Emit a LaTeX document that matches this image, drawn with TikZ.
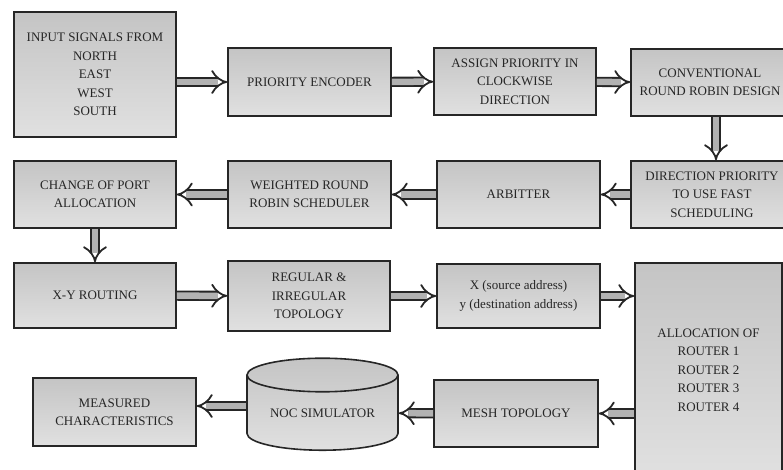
\documentclass[tikz,border=0pt]{standalone}
\usepackage{fontspec}
\setmainfont{Liberation Serif}
\usetikzlibrary{arrows.meta,shapes.geometric}

\begin{document}
\begin{tikzpicture}[x=1pt,y=-1pt,
        blk/.style={draw=black!85,line width=1.6pt,top color=black!23,bottom color=black!12,
            align=center,inner sep=0pt,text=black!85,font=\rmfamily\fontsize{13}{18.5}\selectfont},
        drum/.style={blk,cylinder,shape border rotate=90,aspect=0.32},
        flow/.style={draw=black!85,line width=1.8pt,double=black!30,double distance=6.5pt,-{Implies}}]
        \useasboundingbox(0,0)rectangle(783,469);
        \node[blk,minimum width=162pt,minimum height=125pt](inp)at(95,74.5){INPUT SIGNALS FROM\\NORTH\\EAST\\WEST\\SOUTH};
        \node[blk,minimum width=163pt,minimum height=68pt](enc)at(309.5,82){PRIORITY ENCODER};
        \node[blk,minimum width=162pt,minimum height=67pt](asg)at(515,81.5){ASSIGN PRIORITY IN\\CLOCKWISE\\DIRECTION};
        \node[blk,minimum width=158pt,minimum height=67pt](conv)at(710,82.5){CONVENTIONAL\\ROUND ROBIN DESIGN};
        \node[blk,minimum width=162pt,minimum height=67pt](dir)at(712,194.5){DIRECTION PRIORITY\\TO USE FAST\\SCHEDULING};
        \node[blk,minimum width=163pt,minimum height=67pt](arb)at(518.5,194.5){ARBITTER};
        \node[blk,minimum width=163pt,minimum height=67pt](wrr)at(309.5,194.5){WEIGHTED ROUND\\ROBIN SCHEDULER};
        \node[blk,minimum width=162pt,minimum height=67pt](chg)at(95,194.5){CHANGE OF PORT\\ALLOCATION};
        \node[blk,minimum width=162pt,minimum height=65pt](xy)at(95,295.5){X-Y ROUTING};
        \node[blk,minimum width=162pt,minimum height=70pt](reg)at(309,296){REGULAR \&\\IRREGULAR\\TOPOLOGY};
        \node[blk,minimum width=163pt,minimum height=64pt](addr)at(518.5,296){X (source address)\\y (destination address)};
        \node[blk,minimum width=147pt,minimum height=214pt](alloc)at(708.5,370){ALLOCATION OF\\ROUTER 1\\ROUTER 2\\ROUTER 3\\ROUTER 4};
        \node[blk,minimum width=164pt,minimum height=67pt](mesh)at(516,413.5){MESH TOPOLOGY};
        \node[drum,minimum width=151pt,minimum height=92pt](noc)at(322.5,413){NOC SIMULATOR};
        \node[blk,minimum width=163pt,minimum height=68pt](meas)at(114.5,412){MEASURED\\CHARACTERISTICS};

        \draw[flow](inp.east|-enc.west)--(enc.west);
        \draw[flow](enc)--(asg);
        \draw[flow](asg)--(conv);
        \draw[flow]([xshift=6pt]conv.south)--([xshift=6pt]conv.south|-dir.north);
        \draw[flow](dir)--(arb);
        \draw[flow](arb)--(wrr);
        \draw[flow](wrr)--(chg);
        \draw[flow](chg)--(xy);
        \draw[flow](xy)--(reg);
        \draw[flow](reg)--(addr);
        \draw[flow](addr.east)--(addr.east-|alloc.west);
        \draw[flow](alloc.west|-mesh.east)--(mesh.east);
        \draw[flow](mesh)--(noc);
        \draw[flow]([yshift=7pt]noc.west)--([yshift=7pt]noc.west-|meas.east);
    \end{tikzpicture}
\end{document}
